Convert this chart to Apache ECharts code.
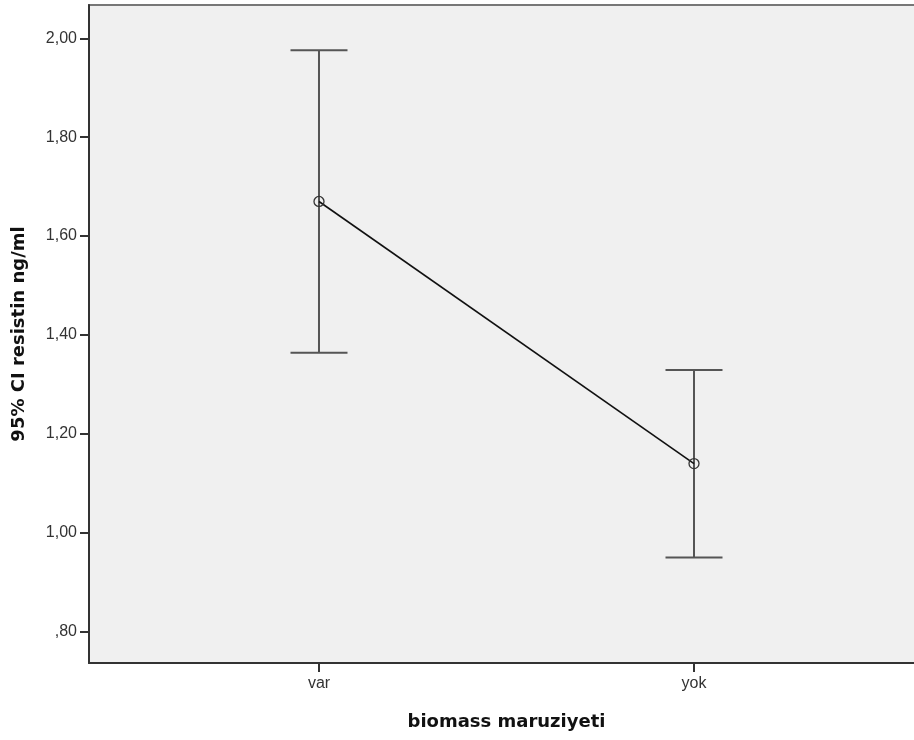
<!DOCTYPE html>
<html>
<head>
<meta charset="utf-8">
<script src="https://cdn.jsdelivr.net/npm/echarts@6/dist/echarts.min.js"></script>
<style>
  html, body { margin: 0; padding: 0; background: #fff; }
  #chart { width: 914px; height: 740px; }
</style>
</head>
<body>
<div id="chart"></div>
<script>
// Groups on the x axis
const categories = ['var', 'yok'];
// Group means and 95% confidence limits
const means = [1.67, 1.14];
const lowerCI = [1.364, 0.950];
const upperCI = [1.976, 1.329];
// Y tick positions
const yTicks = [0.8, 1.0, 1.2, 1.4, 1.6, 1.8, 2.0];

const xPos = categories.map((c, i) => i + 1);
const meanData = xPos.map((x, i) => [x, means[i]]);
const ciData = xPos.map((x, i) => [x, lowerCI[i], upperCI[i]]);

function fmtY(v) {
  let s = v.toFixed(2).replace('.', ',');
  if (s.startsWith('0')) s = s.slice(1);
  return s;
}

const chart = echarts.init(document.getElementById('chart'), null, { renderer: 'canvas' });
const capHalf = 0.076;
const tickFont = 'Arial, "Liberation Sans", sans-serif';
const titleFont = '"DejaVu Sans", Verdana, sans-serif';

chart.setOption({
  animation: false,
  grid: {
    left: 89, top: 5, right: -10, bottom: 77,
    show: true, backgroundColor: '#f0f0f0',
    borderColor: '#777', borderWidth: 2,
    outerBoundsMode: 'none', containLabel: false
  },
  xAxis: {
    type: 'value', min: 0.3867, max: 2.6133,
    splitLine: { show: false },
    axisLine: { show: true, onZero: false, lineStyle: { color: '#333', width: 2 } },
    axisTick: { show: true, customValues: xPos, length: 9, lineStyle: { color: '#333', width: 2 } },
    axisLabel: {
      customValues: xPos, margin: 13, fontSize: 16, fontFamily: tickFont, color: '#333',
      formatter: v => categories[Math.round(v) - 1] || ''
    },
    name: 'biomass maruziyeti', nameLocation: 'middle', nameGap: 50,
    nameTextStyle: { fontSize: 18, fontWeight: 'bold', fontFamily: titleFont, color: '#111' }
  },
  yAxis: {
    type: 'value', min: 0.7367, max: 2.0673,
    splitLine: { show: false },
    axisLine: { show: true, onZero: false, lineStyle: { color: '#333', width: 2 } },
    axisTick: { show: true, customValues: yTicks, length: 9, lineStyle: { color: '#333', width: 2 } },
    axisLabel: {
      customValues: yTicks, margin: 12, fontSize: 16, fontFamily: tickFont, color: '#333',
      formatter: v => fmtY(v)
    },
    name: '95% CI resistin ng/ml', nameLocation: 'middle', nameGap: 61, nameRotate: 90,
    nameTextStyle: { fontSize: 18, fontWeight: 'bold', fontFamily: titleFont, color: '#111' }
  },
  series: [
    {
      type: 'custom',
      data: ciData,
      renderItem: function (params, api) {
        const x = api.value(0);
        const lo = api.coord([x, api.value(1)]);
        const hi = api.coord([x, api.value(2)]);
        const loL = api.coord([x - capHalf, api.value(1)]);
        const loR = api.coord([x + capHalf, api.value(1)]);
        const hiL = api.coord([x - capHalf, api.value(2)]);
        const hiR = api.coord([x + capHalf, api.value(2)]);
        const style = { stroke: '#555', lineWidth: 2, fill: null };
        return {
          type: 'group',
          children: [
            { type: 'line', shape: { x1: hi[0], y1: hi[1], x2: lo[0], y2: lo[1] }, style },
            { type: 'line', shape: { x1: hiL[0], y1: hiL[1], x2: hiR[0], y2: hiR[1] }, style },
            { type: 'line', shape: { x1: loL[0], y1: loL[1], x2: loR[0], y2: loR[1] }, style }
          ]
        };
      },
      z: 2
    },
    {
      type: 'line',
      data: meanData,
      symbol: 'circle', symbolSize: 10,
      itemStyle: { color: 'rgba(240,240,240,0)', borderColor: '#333', borderWidth: 1.3 },
      lineStyle: { color: '#111', width: 1.6 },
      z: 3
    }
  ]
});
</script>
</body>
</html>
